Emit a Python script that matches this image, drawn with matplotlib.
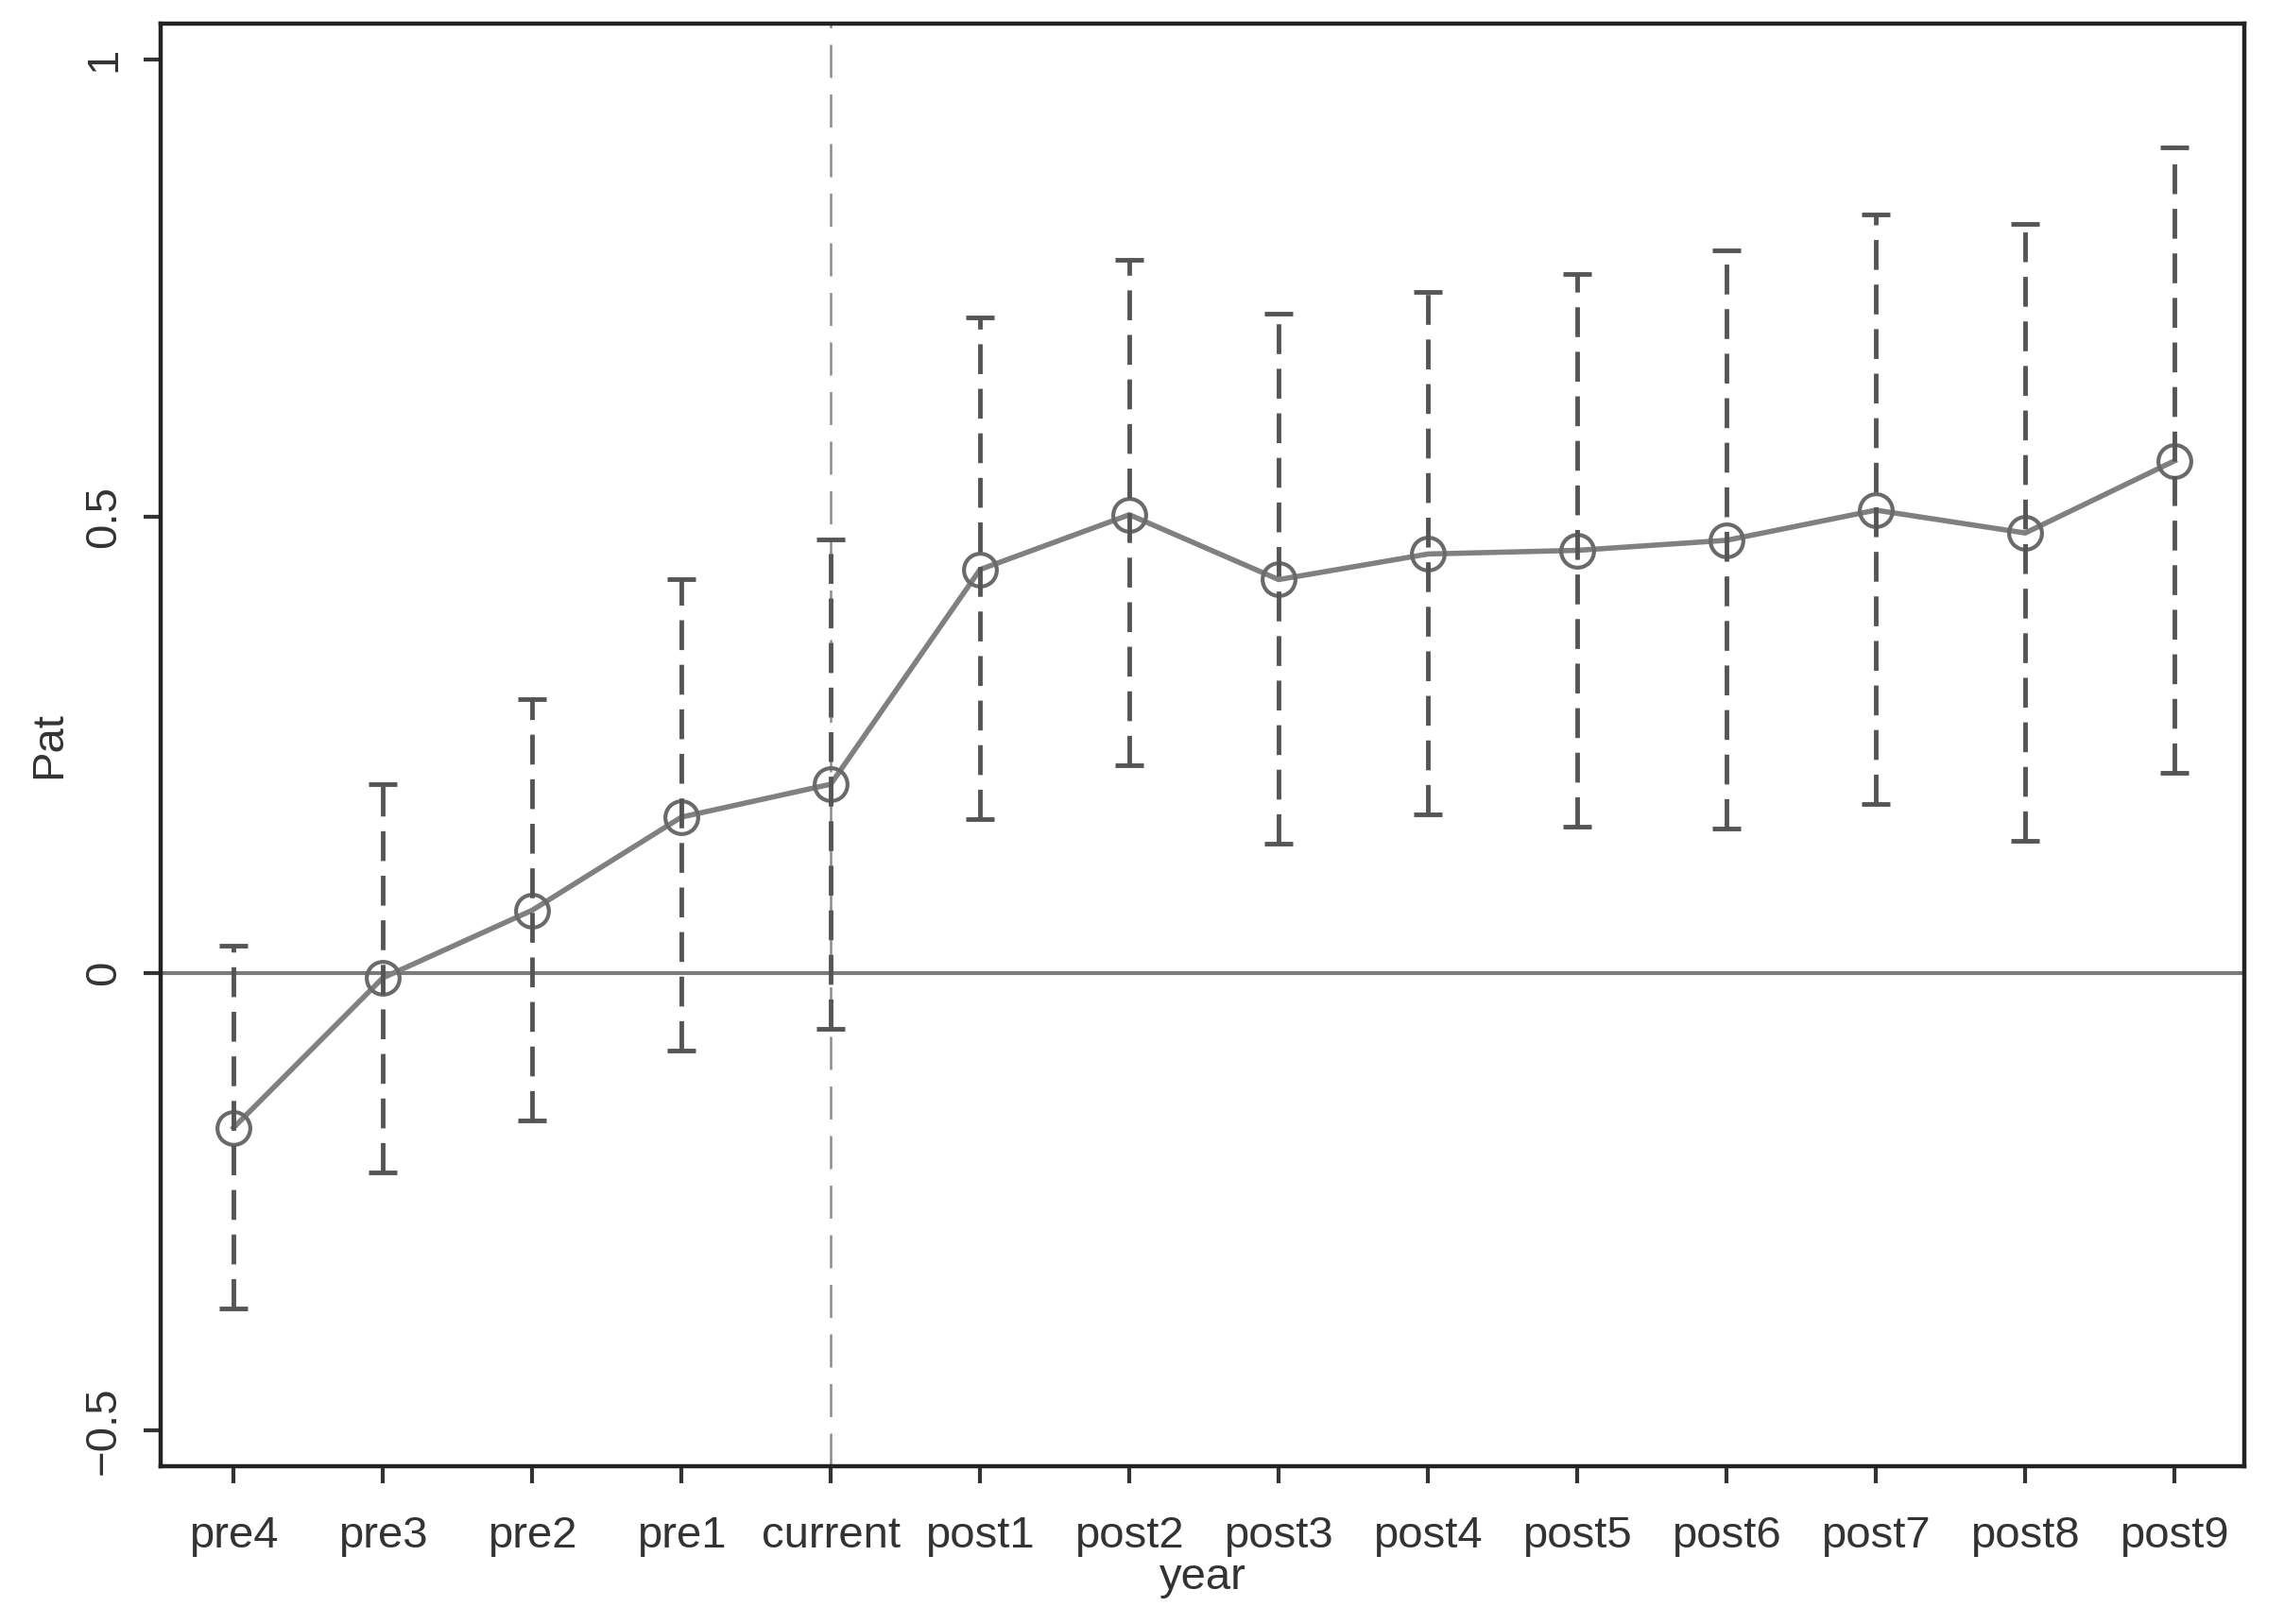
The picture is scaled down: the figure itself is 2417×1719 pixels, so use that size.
import matplotlib.pyplot as plt
import numpy as np

plt.rcParams['font.family'] = ['Liberation Sans', 'DejaVu Sans']

# event-study coefficients
periods = ['pre4', 'pre3', 'pre2', 'pre1', 'current', 'post1', 'post2',
           'post3', 'post4', 'post5', 'post6', 'post7', 'post8', 'post9']
coef = [-0.169, -0.005, 0.069, 0.171, 0.207, 0.442, 0.502,
        0.431, 0.459, 0.463, 0.474, 0.507, 0.482, 0.561]
ci_upper = [0.030, 0.207, 0.300, 0.431, 0.475, 0.718, 0.781,
            0.722, 0.746, 0.766, 0.791, 0.831, 0.820, 0.904]
ci_lower = [-0.367, -0.218, -0.161, -0.085, -0.061, 0.169, 0.228,
            0.142, 0.174, 0.161, 0.158, 0.185, 0.145, 0.220]

x = np.arange(len(periods))
coef = np.array(coef)
yerr = [coef - np.array(ci_lower), np.array(ci_upper) - coef]

fig = plt.figure(figsize=(24.17, 17.19), dpi=100)
ax = fig.add_axes([0.0702, 0.0969, 0.9126, 0.8888])

ax.axhline(0, color='#7a7a7a', lw=3, zorder=1)
ax.axvline(4, color='#8a8a8a', lw=1.8, ls=(0, (14, 7)), zorder=1)

ax.plot(x, coef, color='#808080', lw=4, marker='o', ms=25,
        mfc='none', mec='#6a6a6a', mew=3, zorder=3)

eb = ax.errorbar(x, coef, yerr=yerr, fmt='none', ecolor='#555555',
                 elinewidth=3.5, capsize=11, capthick=3.5, zorder=4)
eb[2][0].set_linestyle((0, (6.5, 3.2)))

ax.set_xlim(-0.49, 13.47)
ax.set_ylim(-0.54, 1.04)
ax.set_xticks(x)
ax.set_xticklabels(periods)
ax.set_yticks([-0.5, 0, 0.5, 1])
ax.set_yticklabels(['−0.5', '0', '0.5', '1'], rotation=90, va='center')

ax.tick_params(axis='both', labelsize=34, length=13, width=3,
               color='#333333', labelcolor='#333333')
ax.tick_params(axis='x', pad=24)
ax.tick_params(axis='y', pad=14)
for s in ax.spines.values():
    s.set_linewidth(3.2)
    s.set_color('#222222')

ax.set_xlabel('year', fontsize=34, color='#333333', labelpad=0)
ax.set_ylabel('Pat', fontsize=34, color='#333333', labelpad=10)

fig.savefig('out.png', dpi=100, facecolor='white')
